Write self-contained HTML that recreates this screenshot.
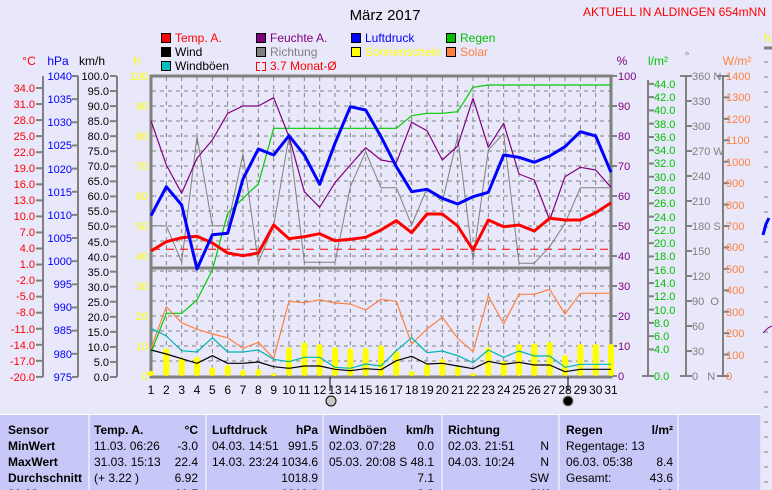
<!DOCTYPE html>
<html><head><meta charset="utf-8">
<style>
html,body{margin:0;padding:0;width:772px;height:490px;overflow:hidden;background:#e8e8fa;}
svg{position:absolute;left:0;top:0;}
text{font-family:"Liberation Sans",sans-serif;font-size:12px;}
.ax text{font-size:11px;}
.tb text{font-family:"Liberation Sans Narrow","Liberation Sans",sans-serif;font-size:12px;}
</style></head><body>
<svg id="s" width="772" height="490" xmlns="http://www.w3.org/2000/svg">
<rect width="772" height="490" fill="#e8e8fa"/>
<text x="385" y="20" text-anchor="middle" style="font-size:15px">März 2017</text>
<text x="766" y="16" text-anchor="end" fill="#ff0000" style="font-size:12px">AKTUELL IN ALDINGEN 654mNN</text>

<g stroke="#000" stroke-width="1">
<rect x="161.5" y="33.5" width="9" height="9" fill="#ff0000"/>
<rect x="161.5" y="47.5" width="9" height="9" fill="#000"/>
<rect x="161.5" y="61.5" width="9" height="9" fill="#00c0c0"/>
<rect x="256.5" y="33.5" width="9" height="9" fill="#800080"/>
<rect x="256.5" y="47.5" width="9" height="9" fill="#808080"/>
<rect x="351.5" y="33.5" width="9" height="9" fill="#0000ff"/>
<rect x="351.5" y="47.5" width="9" height="9" fill="#ffff00"/>
<rect x="446.5" y="33.5" width="9" height="9" fill="#00c000"/>
<rect x="446.5" y="47.5" width="9" height="9" fill="#ff8040"/>
</g>
<path d="M260 62.5H256.5V70.5H260M262 62.5H265.5V70.5H262" stroke="#ff0000" fill="none"/>
<text x="175" y="42" fill="#ff0000">Temp. A.</text>
<text x="175" y="56">Wind</text>
<text x="175" y="70">Windböen</text>
<text x="270" y="42" fill="#800080">Feuchte A.</text>
<text x="270" y="56" fill="#808080">Richtung</text>
<text x="270" y="70" fill="#ff0000">3.7 Monat-Ø</text>
<text x="365" y="42" fill="#0000ff">Luftdruck</text>
<text x="365" y="56" fill="#ffff00">Sonnenschein</text>
<text x="460" y="42" fill="#00c000">Regen</text>
<text x="460" y="56" fill="#ff8040">Solar</text>

<text x="29" y="65" fill="#ff0000" text-anchor="middle">°C</text>
<text x="58" y="65" fill="#0000ff" text-anchor="middle">hPa</text>
<text x="92" y="65" text-anchor="middle">km/h</text>
<text x="137" y="65" fill="#ffff00" text-anchor="middle">h</text>
<text x="622" y="65" fill="#800080" text-anchor="middle">%</text>
<text x="658" y="65" fill="#00c000" text-anchor="middle">l/m²</text>
<text x="687" y="60" fill="#808080" text-anchor="middle">°</text>
<text x="737" y="65" fill="#ff8040" text-anchor="middle">W/m²</text>
<text x="764" y="42" fill="#ffff00">h</text>
<line x1="764" y1="48" x2="772" y2="48" stroke="#808080" stroke-width="3"/>
<g id="grid" stroke="#808080" stroke-dasharray="4,4" stroke-width="1"></g>
<g id="axes" stroke="#808080" stroke-width="2" fill="none"></g>
<g id="ser"></g>

<g class="ax">
<g fill="#ff0000" text-anchor="end">
<text x="35" y="92">34.0</text><text x="35" y="108">31.0</text><text x="35" y="124">28.0</text><text x="35" y="140">25.0</text><text x="35" y="156">22.0</text><text x="35" y="172">19.0</text><text x="35" y="188">16.0</text><text x="35" y="204">13.0</text><text x="35" y="220">10.0</text><text x="35" y="236">7.0</text><text x="35" y="252">4.0</text><text x="35" y="268">1.0</text><text x="35" y="284">-2.0</text><text x="35" y="300">-5.0</text><text x="35" y="316">-8.0</text><text x="35" y="333">-11.0</text><text x="35" y="349">-14.0</text><text x="35" y="365">-17.0</text><text x="35" y="381">-20.0</text>
</g>
<g fill="#0000ff" text-anchor="end">
<text x="72" y="80">1040</text><text x="72" y="103">1035</text><text x="72" y="126">1030</text><text x="72" y="149">1025</text><text x="72" y="173">1020</text><text x="72" y="196">1015</text><text x="72" y="219">1010</text><text x="72" y="242">1005</text><text x="72" y="265">1000</text><text x="72" y="288">995</text><text x="72" y="311">990</text><text x="72" y="334">985</text><text x="72" y="358">980</text><text x="72" y="381">975</text>
</g>
<g text-anchor="end">
<text x="109" y="80">100.0</text><text x="109" y="95">95.0</text><text x="109" y="110">90.0</text><text x="109" y="125">85.0</text><text x="109" y="140">80.0</text><text x="109" y="155">75.0</text><text x="109" y="170">70.0</text><text x="109" y="185">65.0</text><text x="109" y="200">60.0</text><text x="109" y="215">55.0</text><text x="109" y="230">50.0</text><text x="109" y="246">45.0</text><text x="109" y="261">40.0</text><text x="109" y="276">35.0</text><text x="109" y="291">30.0</text><text x="109" y="306">25.0</text><text x="109" y="321">20.0</text><text x="109" y="336">15.0</text><text x="109" y="351">10.0</text><text x="109" y="366">5.0</text><text x="109" y="381">0.0</text>
</g>
<g fill="#ffff00" text-anchor="end">
<text x="148" y="80">100</text><text x="148" y="110">90</text><text x="148" y="140">80</text><text x="148" y="170">70</text><text x="148" y="200">60</text><text x="148" y="230">50</text><text x="148" y="260">40</text><text x="148" y="290">30</text><text x="148" y="320">20</text><text x="148" y="350">10</text><text x="148" y="380">0</text>
</g>
<g fill="#800080">
<text x="618" y="80">100</text><text x="618" y="110">90</text><text x="618" y="140">80</text><text x="618" y="170">70</text><text x="618" y="200">60</text><text x="618" y="230">50</text><text x="618" y="260">40</text><text x="618" y="290">30</text><text x="618" y="320">20</text><text x="618" y="350">10</text><text x="618" y="380">0</text>
</g>
<g fill="#00c000">
<text x="654" y="88">44.0</text><text x="654" y="101">42.0</text><text x="654" y="114">40.0</text><text x="654" y="128">38.0</text><text x="654" y="141">36.0</text><text x="654" y="154">34.0</text><text x="654" y="167">32.0</text><text x="654" y="181">30.0</text><text x="654" y="194">28.0</text><text x="654" y="207">26.0</text><text x="654" y="221">24.0</text><text x="654" y="234">22.0</text><text x="654" y="247">20.0</text><text x="654" y="260">18.0</text><text x="654" y="274">16.0</text><text x="654" y="287">14.0</text><text x="654" y="300">12.0</text><text x="654" y="314">10.0</text><text x="654" y="327">8.0</text><text x="654" y="340">6.0</text><text x="654" y="353">4.0</text><text x="654" y="380">0.0</text>
</g>
<g fill="#808080">
<text x="692" y="80">360 N</text><text x="692" y="105">330</text><text x="692" y="130">300</text><text x="692" y="155">270 W</text><text x="692" y="180">240</text><text x="692" y="205">210</text><text x="692" y="230">180 S</text><text x="692" y="255">150</text><text x="692" y="280">120</text><text x="692" y="305">90 &#160;O</text><text x="692" y="330">60</text><text x="692" y="355">30</text><text x="692" y="380">0 &#160;&#160;N</text>
</g>
<g fill="#ff8040">
<text x="726" y="80">1400</text><text x="726" y="101">1300</text><text x="726" y="123">1200</text><text x="726" y="144">1100</text><text x="726" y="166">1000</text><text x="726" y="187">900</text><text x="726" y="209">800</text><text x="726" y="230">700</text><text x="726" y="251">600</text><text x="726" y="273">500</text><text x="726" y="294">400</text><text x="726" y="316">300</text><text x="726" y="337">200</text><text x="726" y="359">100</text><text x="726" y="380">0</text>
</g>
</g>
<g text-anchor="middle">
<text x="151" y="394">1</text><text x="166.3" y="394">2</text><text x="181.7" y="394">3</text><text x="197" y="394">4</text><text x="212.3" y="394">5</text><text x="227.7" y="394">6</text><text x="243" y="394">7</text><text x="258.3" y="394">8</text><text x="273.7" y="394">9</text><text x="289" y="394">10</text><text x="304.3" y="394">11</text><text x="319.7" y="394">12</text><text x="335" y="394">13</text><text x="350.3" y="394">14</text><text x="365.7" y="394">15</text><text x="381" y="394">16</text><text x="396.3" y="394">17</text><text x="411.7" y="394">18</text><text x="427" y="394">19</text><text x="442.3" y="394">20</text><text x="457.7" y="394">21</text><text x="473" y="394">22</text><text x="488.3" y="394">23</text><text x="503.7" y="394">24</text><text x="519" y="394">25</text><text x="534.3" y="394">26</text><text x="549.7" y="394">27</text><text x="565" y="394">28</text><text x="580.3" y="394">29</text><text x="595.7" y="394">30</text><text x="611" y="394">31</text>
</g>
<line x1="330" y1="377" x2="330" y2="391" stroke="#000"/>
<line x1="568" y1="377" x2="568" y2="391" stroke="#000"/>
<circle cx="331" cy="401" r="5" fill="#c8c8c8" stroke="#000"/>
<circle cx="568" cy="401" r="5" fill="#000" stroke="#888"/>

<g class="tb">
<rect x="0" y="414" width="762" height="76" fill="#c8c8f8"/>
<line x1="0" y1="414.5" x2="762" y2="414.5" stroke="#fff"/>
<g stroke="#fff"><line x1="89" y1="414" x2="89" y2="490"/><line x1="206" y1="414" x2="206" y2="490"/><line x1="323" y1="414" x2="323" y2="490"/><line x1="442" y1="414" x2="442" y2="490"/><line x1="559" y1="414" x2="559" y2="490"/><line x1="678" y1="414" x2="678" y2="490"/><line x1="761" y1="414" x2="761" y2="490"/></g>
<g font-weight="bold">
<text x="8" y="434">Sensor</text><text x="8" y="450">MinWert</text><text x="8" y="466">MaxWert</text><text x="8" y="482">Durchschnitt</text><text x="8" y="498">01.03.</text>
<text x="94" y="434">Temp. A.</text><text x="198" y="434" text-anchor="end">°C</text>
<text x="212" y="434">Luftdruck</text><text x="318" y="434" text-anchor="end">hPa</text>
<text x="329" y="434">Windböen</text><text x="434" y="434" text-anchor="end">km/h</text>
<text x="448" y="434">Richtung</text>
<text x="566" y="434">Regen</text><text x="673" y="434" text-anchor="end">l/m²</text>
<text x="198" y="498" text-anchor="end">10.5</text><text x="318" y="498" text-anchor="end">1019.0</text><text x="434" y="498" text-anchor="end">8.8</text><text x="549" y="498" text-anchor="end">SW</text><text x="673" y="498" text-anchor="end">0.0</text>
</g>
<text x="94" y="450">11.03.  06:26</text><text x="198" y="450" text-anchor="end">-3.0</text>
<text x="94" y="466">31.03.  15:13</text><text x="198" y="466" text-anchor="end">22.4</text>
<text x="94" y="482">(+ 3.22 )</text><text x="198" y="482" text-anchor="end">6.92</text>
<text x="212" y="450">04.03.  14:51</text><text x="318" y="450" text-anchor="end">991.5</text>
<text x="212" y="466">14.03.  23:24</text><text x="318" y="466" text-anchor="end">1034.6</text>
<text x="318" y="482" text-anchor="end">1018.9</text>
<text x="329" y="450">02.03.  07:28</text><text x="434" y="450" text-anchor="end">0.0</text>
<text x="329" y="466">05.03.  20:08</text><text x="434" y="466" text-anchor="end">S 48.1</text>
<text x="434" y="482" text-anchor="end">7.1</text>
<text x="448" y="450">02.03.  21:51</text><text x="549" y="450" text-anchor="end">N</text>
<text x="448" y="466">04.03.  10:24</text><text x="549" y="466" text-anchor="end">N</text>
<text x="549" y="482" text-anchor="end">SW</text>
<text x="566" y="450">Regentage: 13</text>
<text x="566" y="466">06.03.  05:38</text><text x="673" y="466" text-anchor="end">8.4</text>
<text x="566" y="482">Gesamt:</text><text x="673" y="482" text-anchor="end">43.6</text>
</g>
</svg>
<script>
var NS="http://www.w3.org/2000/svg";
function el(p,t,a){var e=document.createElementNS(NS,t);for(var k in a)e.setAttribute(k,a[k]);document.getElementById(p).appendChild(e);return e;}
var X=[];for(var d=0;d<31;d++)X.push(151+d*460/30);
for(var d=1;d<30;d++)el("grid","line",{x1:X[d],y1:77,x2:X[d],y2:376});
for(var y=91;y<376;y+=15){if(Math.abs(y-268)<3)continue;el("grid","line",{x1:152,y1:y,x2:610,y2:y});}
for(var y=62;y<490;y+=15)el("grid","line",{x1:764,y1:y,x2:772,y2:y});
var a=[];for(var i=0;i<19;i++)a.push(88+i*16.05);el("axes","line",{x1:43,y1:76,x2:43,y2:377});a.forEach(function(y){el("axes","line",{x1:36,y1:y,x2:43,y2:y});});
a=[];for(var i=0;i<14;i++)a.push(76+i*23.15);el("axes","line",{x1:78,y1:76,x2:78,y2:377});a.forEach(function(y){el("axes","line",{x1:72,y1:y,x2:78,y2:y});});
a=[];for(var i=0;i<21;i++)a.push(76+i*15.05);el("axes","line",{x1:117,y1:76,x2:117,y2:377});a.forEach(function(y){el("axes","line",{x1:110,y1:y,x2:117,y2:y});});
a=[];for(var i=0;i<11;i++)a.push(76+i*30);a.forEach(function(y){el("axes","line",{x1:611,y1:y,x2:617,y2:y});});
a=[];for(var v=44;v>=4;v-=2)a.push(376-v*6.64);a.push(376);el("axes","line",{x1:648,y1:80,x2:648,y2:376});a.forEach(function(y){el("axes","line",{x1:648,y1:y,x2:654,y2:y});});
el("axes","line",{x1:642,y1:376,x2:648,y2:376});
a=[];for(var i=0;i<13;i++)a.push(76+i*25);el("axes","line",{x1:686,y1:76,x2:686,y2:376});a.forEach(function(y){el("axes","line",{x1:686,y1:y,x2:692,y2:y});});
el("axes","line",{x1:680,y1:76,x2:686,y2:76});el("axes","line",{x1:680,y1:376,x2:686,y2:376});
a=[];for(var i=0;i<15;i++)a.push(76+i*21.43);el("axes","line",{x1:723,y1:76,x2:723,y2:376});a.forEach(function(y){el("axes","line",{x1:723,y1:y,x2:729,y2:y});});
el("axes","line",{x1:717,y1:76,x2:723,y2:76});el("axes","line",{x1:717,y1:376,x2:723,y2:376});
el("axes","rect",{x:151,y:76,width:460,height:301,"stroke-width":3});
el("axes","line",{x1:151,y1:268,x2:611,y2:268,"stroke-width":3});
var sun=[371,348.3,357.7,356.7,367.3,365,370,369,373.3,347.3,342.3,344,347.3,348.3,348,345.3,350.7,371,364.3,359,366.7,373.3,347.3,361,344,343.3,341.7,355,344,344,344];
sun.forEach(function(y,i){el("ser","rect",{x:X[i]-3,y:y,width:6,height:376-y,rx:3,fill:"#ffff00"});});
function pl(ys,c,w){var p=ys.map(function(y,i){return X[i]+","+y;}).join(" ");el("ser","polyline",{points:p,fill:"none",stroke:c,"stroke-width":w,"stroke-linejoin":"round"});}
pl([352.7,313.3,313.3,300,270,213.3,198.3,184,128.3,128.3,128.3,128.3,128.3,128.3,128.3,128.3,128.3,115.7,113.3,113.3,111.7,87.3,85,85,85,85,85,85,85,85,85],"#00cc00",1.2);
pl([348.3,306.7,322.7,329.3,334,337.7,348.3,342.3,358.3,301.3,302.7,299.7,303,304,310,299.3,301.3,344,329,317.3,338.3,351.7,296,324,294.3,294.3,289.3,314,293.3,293.3,293.3],"#ff8040",1.2);
pl([328.3,336,350.7,352,337.7,352,352,350,359.3,361.7,357.3,357.3,367.3,368.3,364,366,350.7,337.7,352.7,351,355.7,362.7,350,357.3,351,356,356,367.3,364.3,364.3,364.3],"#00b4b4",1.2);
pl([350,354,358.7,363.3,355.7,363.3,363.3,362,366.7,368.3,366,366,369.3,370.7,368.7,369.7,360.7,356.3,364,363.3,366,368.7,361.3,364.3,362.3,365,365,371.7,369.3,369.3,369.3],"#000",1.2);
pl([225.7,225.7,262.3,136.7,225.7,225.7,154,262.3,225.7,136.7,262.3,262.3,262.3,186.7,151.7,187.7,187.7,225,188.3,201.7,136.7,260,150,133.3,263.3,263.3,246.7,223.3,187.7,187.7,187.7],"#808080",1);
pl([120.7,165,193.3,158.3,140,113.3,106,106,97.7,136.7,191.7,207.3,182.7,165,147.7,160,162.7,122.3,130.7,160,146,98.3,147.3,123.3,174,180,220,176.7,167.3,170,187.3],"#800080",1.2);
el("ser","line",{x1:152,y1:249.3,x2:610,y2:249.3,stroke:"#ff0000","stroke-dasharray":"8,6","stroke-width":1});
pl([251,241.7,237.7,236.3,243,253,255.7,253,225,238.7,236.7,233.7,240.7,239.3,237.3,230,220.7,232.7,214,214,226,250,220,226.7,225,231,218.3,220,220,212.7,202.7],"#ff0000",3);
pl([215.7,186.7,205,269,234.7,233.3,179,149,155,135.7,155,184.3,143.3,106.7,110,136.7,166.7,191.7,189.3,198.3,204,196.7,192.3,155,157.3,162.3,156,146.7,131.7,136,172.3],"#0000ff",3);
el("ser","polyline",{points:"763,235 766,224 769,218",fill:"none",stroke:"#0000ff","stroke-width":3});
el("ser","polyline",{points:"763,333 768,328 772,326",fill:"none",stroke:"#800080","stroke-width":1});
</script>
</body></html>
